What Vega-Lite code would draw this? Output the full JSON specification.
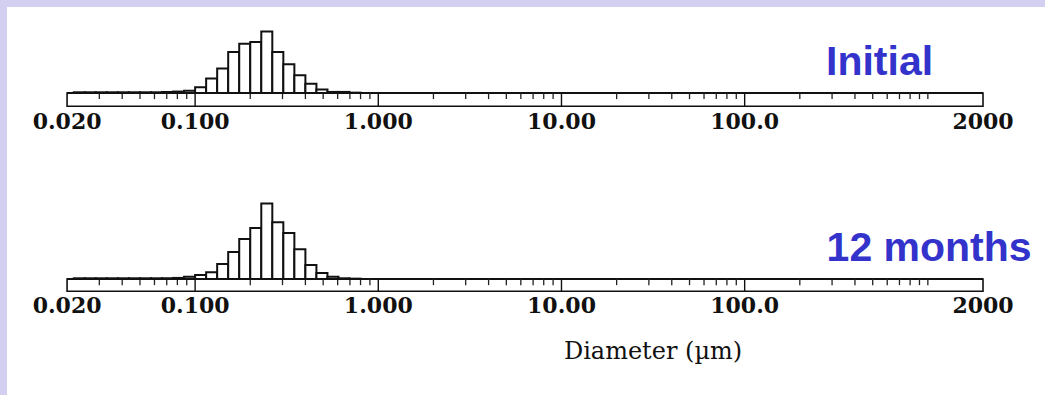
{
  "$schema": "https://vega.github.io/schema/vega-lite/v6.json",
  "width": 1045,
  "height": 395,
  "autosize": {"type": "fit", "contains": "padding"},
  "padding": {"left": 7, "top": 7, "right": 0, "bottom": 0},
  "background": "#D3CFF0",
  "config": {"view": {"fill": "white", "stroke": null}, "axis": {"disable": true}},
  "datasets": {
    "bins": [
      {"lo": 0.021764, "hi": 0.025, "initial": 0.2, "m12": 0.2},
      {"lo": 0.025, "hi": 0.028717, "initial": 0.2, "m12": 0.2},
      {"lo": 0.028717, "hi": 0.032988, "initial": 0.2, "m12": 0.2},
      {"lo": 0.032988, "hi": 0.037893, "initial": 0.2, "m12": 0.2},
      {"lo": 0.037893, "hi": 0.043528, "initial": 0.2, "m12": 0.2},
      {"lo": 0.043528, "hi": 0.05, "initial": 0.2, "m12": 0.2},
      {"lo": 0.05, "hi": 0.057435, "initial": 0.2, "m12": 0.2},
      {"lo": 0.057435, "hi": 0.065975, "initial": 0.2, "m12": 0.2},
      {"lo": 0.065975, "hi": 0.075786, "initial": 0.3, "m12": 0.2},
      {"lo": 0.075786, "hi": 0.087055, "initial": 0.4, "m12": 0.3},
      {"lo": 0.087055, "hi": 0.1, "initial": 0.6, "m12": 0.6},
      {"lo": 0.1, "hi": 0.11487, "initial": 1.6, "m12": 1.1},
      {"lo": 0.11487, "hi": 0.13195, "initial": 4.0, "m12": 1.9},
      {"lo": 0.13195, "hi": 0.15157, "initial": 6.8, "m12": 4.2},
      {"lo": 0.15157, "hi": 0.17411, "initial": 11.4, "m12": 7.5},
      {"lo": 0.17411, "hi": 0.2, "initial": 13.7, "m12": 11.1},
      {"lo": 0.2, "hi": 0.22974, "initial": 14.2, "m12": 14.2},
      {"lo": 0.22974, "hi": 0.2639, "initial": 17.1, "m12": 21.0},
      {"lo": 0.2639, "hi": 0.30314, "initial": 11.4, "m12": 15.8},
      {"lo": 0.30314, "hi": 0.34822, "initial": 8.0, "m12": 12.8},
      {"lo": 0.34822, "hi": 0.4, "initial": 4.9, "m12": 8.3},
      {"lo": 0.4, "hi": 0.45948, "initial": 2.6, "m12": 3.9},
      {"lo": 0.45948, "hi": 0.5278, "initial": 1.0, "m12": 1.7},
      {"lo": 0.5278, "hi": 0.60629, "initial": 0.3, "m12": 0.6},
      {"lo": 0.60629, "hi": 0.69644, "initial": 0.3, "m12": 0.2},
      {"lo": 0.69644, "hi": 0.8, "initial": 0.1, "m12": 0.1}
    ],
    "ticks": [
      {"v": 0.03, "major": false}, {"v": 0.04, "major": false}, {"v": 0.05, "major": false}, {"v": 0.06, "major": false}, {"v": 0.07, "major": false}, {"v": 0.08, "major": false}, {"v": 0.09, "major": false},
      {"v": 0.1, "major": true},
      {"v": 0.2, "major": false}, {"v": 0.3, "major": false}, {"v": 0.4, "major": false}, {"v": 0.5, "major": false}, {"v": 0.6, "major": false}, {"v": 0.7, "major": false}, {"v": 0.8, "major": false}, {"v": 0.9, "major": false},
      {"v": 1, "major": true},
      {"v": 2, "major": false}, {"v": 3, "major": false}, {"v": 4, "major": false}, {"v": 5, "major": false}, {"v": 6, "major": false}, {"v": 7, "major": false}, {"v": 8, "major": false}, {"v": 9, "major": false},
      {"v": 10, "major": true},
      {"v": 20, "major": false}, {"v": 30, "major": false}, {"v": 40, "major": false}, {"v": 50, "major": false}, {"v": 60, "major": false}, {"v": 70, "major": false}, {"v": 80, "major": false}, {"v": 90, "major": false},
      {"v": 100, "major": true},
      {"v": 200, "major": false}, {"v": 300, "major": false}, {"v": 400, "major": false}, {"v": 500, "major": false}, {"v": 600, "major": false}, {"v": 700, "major": false}, {"v": 800, "major": false}, {"v": 900, "major": false}, {"v": 1000, "major": false}
    ],
    "labels": [
      {"v": 0.02, "t": "0.020"}, {"v": 0.1, "t": "0.100"}, {"v": 1, "t": "1.000"},
      {"v": 10, "t": "10.00"}, {"v": 100, "t": "100.0"}, {"v": 2000, "t": "2000"}
    ],
    "strip": [{"lo": 0.02, "hi": 2000}]
  },
  "resolve": {"scale": {"y": "independent"}},
  "layer": [
    {
      "layer": [
        {
          "data": {"name": "strip"},
          "mark": {"type": "rect", "fill": "white", "stroke": "#111", "strokeWidth": 1.6},
          "encoding": {
            "x": {"field": "lo", "type": "quantitative", "scale": {"type": "log", "domain": [0.0094, 4360], "nice": false}},
            "x2": {"field": "hi"},
            "y": {"datum": 0, "type": "quantitative", "scale": {"domain": [-83.89, 23.89], "nice": false, "zero": false}},
            "y2": {"datum": -3.7}
          }
        },
        {
          "data": {"name": "strip"},
          "mark": {"type": "rule", "stroke": "#111", "strokeWidth": 2.2},
          "encoding": {
            "x": {"field": "lo", "type": "quantitative", "scale": {"type": "log", "domain": [0.0094, 4360], "nice": false}},
            "x2": {"field": "hi"},
            "y": {"datum": 0, "type": "quantitative", "scale": {"domain": [-83.89, 23.89], "nice": false, "zero": false}}
          }
        },
        {
          "data": {"name": "ticks"},
          "transform": [{"filter": "!datum.major"}],
          "mark": {"type": "rule", "stroke": "#222", "strokeWidth": 1.3},
          "encoding": {
            "x": {"field": "v", "type": "quantitative", "scale": {"type": "log", "domain": [0.0094, 4360], "nice": false}},
            "y": {"datum": 0, "type": "quantitative", "scale": {"domain": [-83.89, 23.89], "nice": false, "zero": false}},
            "y2": {"datum": -1.7}
          }
        },
        {
          "data": {"name": "ticks"},
          "transform": [{"filter": "datum.major"}],
          "mark": {"type": "rule", "stroke": "#111", "strokeWidth": 1.4},
          "encoding": {
            "x": {"field": "v", "type": "quantitative", "scale": {"type": "log", "domain": [0.0094, 4360], "nice": false}},
            "y": {"datum": 0, "type": "quantitative", "scale": {"domain": [-83.89, 23.89], "nice": false, "zero": false}},
            "y2": {"datum": -3.7}
          }
        },
        {
          "data": {"name": "bins"},
          "mark": {"type": "rect", "fill": "white", "stroke": "#111", "strokeWidth": 2},
          "encoding": {
            "x": {"field": "lo", "type": "quantitative", "scale": {"type": "log", "domain": [0.0094, 4360], "nice": false}},
            "x2": {"field": "hi"},
            "y": {"field": "initial", "type": "quantitative", "scale": {"domain": [-83.89, 23.89], "nice": false, "zero": false}},
            "y2": {"datum": 0}
          }
        },
        {
          "data": {"name": "labels"},
          "mark": {"type": "text", "font": "DejaVu Serif", "fontSize": 22, "fontWeight": "bold", "baseline": "middle", "align": "center", "color": "#111"},
          "encoding": {
            "x": {"field": "v", "type": "quantitative", "scale": {"type": "log", "domain": [0.0094, 4360], "nice": false}},
            "y": {"datum": -8.0, "type": "quantitative", "scale": {"domain": [-83.89, 23.89], "nice": false, "zero": false}},
            "text": {"field": "t"}
          }
        },
        {
          "data": {"values": [{"t": "Initial"}]},
          "mark": {"type": "text", "font": "Liberation Sans", "fontSize": 41, "fontWeight": "bold", "baseline": "alphabetic", "align": "left", "color": "#3333CC"},
          "encoding": {
            "x": {"datum": 278, "type": "quantitative", "scale": {"type": "log", "domain": [0.0094, 4360], "nice": false}},
            "y": {"datum": 5.0, "type": "quantitative", "scale": {"domain": [-83.89, 23.89], "nice": false, "zero": false}},
            "text": {"field": "t"}
          }
        }
      ]
    },
    {
      "layer": [
        {
          "data": {"name": "strip"},
          "mark": {"type": "rect", "fill": "white", "stroke": "#111", "strokeWidth": 1.6},
          "encoding": {
            "x": {"field": "lo", "type": "quantitative", "scale": {"type": "log", "domain": [0.0094, 4360], "nice": false}},
            "x2": {"field": "hi"},
            "y": {"datum": 0, "type": "quantitative", "scale": {"domain": [-32.22, 75.56], "nice": false, "zero": false}},
            "y2": {"datum": -3.4}
          }
        },
        {
          "data": {"name": "strip"},
          "mark": {"type": "rule", "stroke": "#111", "strokeWidth": 2.2},
          "encoding": {
            "x": {"field": "lo", "type": "quantitative", "scale": {"type": "log", "domain": [0.0094, 4360], "nice": false}},
            "x2": {"field": "hi"},
            "y": {"datum": 0, "type": "quantitative", "scale": {"domain": [-32.22, 75.56], "nice": false, "zero": false}}
          }
        },
        {
          "data": {"name": "ticks"},
          "transform": [{"filter": "!datum.major"}],
          "mark": {"type": "rule", "stroke": "#222", "strokeWidth": 1.3},
          "encoding": {
            "x": {"field": "v", "type": "quantitative", "scale": {"type": "log", "domain": [0.0094, 4360], "nice": false}},
            "y": {"datum": 0, "type": "quantitative", "scale": {"domain": [-32.22, 75.56], "nice": false, "zero": false}},
            "y2": {"datum": -1.7}
          }
        },
        {
          "data": {"name": "ticks"},
          "transform": [{"filter": "datum.major"}],
          "mark": {"type": "rule", "stroke": "#111", "strokeWidth": 1.4},
          "encoding": {
            "x": {"field": "v", "type": "quantitative", "scale": {"type": "log", "domain": [0.0094, 4360], "nice": false}},
            "y": {"datum": 0, "type": "quantitative", "scale": {"domain": [-32.22, 75.56], "nice": false, "zero": false}},
            "y2": {"datum": -3.4}
          }
        },
        {
          "data": {"name": "bins"},
          "mark": {"type": "rect", "fill": "white", "stroke": "#111", "strokeWidth": 2},
          "encoding": {
            "x": {"field": "lo", "type": "quantitative", "scale": {"type": "log", "domain": [0.0094, 4360], "nice": false}},
            "x2": {"field": "hi"},
            "y": {"field": "m12", "type": "quantitative", "scale": {"domain": [-32.22, 75.56], "nice": false, "zero": false}},
            "y2": {"datum": 0}
          }
        },
        {
          "data": {"name": "labels"},
          "mark": {"type": "text", "font": "DejaVu Serif", "fontSize": 22, "fontWeight": "bold", "baseline": "middle", "align": "center", "color": "#111"},
          "encoding": {
            "x": {"field": "v", "type": "quantitative", "scale": {"type": "log", "domain": [0.0094, 4360], "nice": false}},
            "y": {"datum": -7.4, "type": "quantitative", "scale": {"domain": [-32.22, 75.56], "nice": false, "zero": false}},
            "text": {"field": "t"}
          }
        },
        {
          "data": {"values": [{"t": "12 months"}]},
          "mark": {"type": "text", "font": "Liberation Sans", "fontSize": 41, "fontWeight": "bold", "baseline": "alphabetic", "align": "left", "color": "#3333CC"},
          "encoding": {
            "x": {"datum": 280, "type": "quantitative", "scale": {"type": "log", "domain": [0.0094, 4360], "nice": false}},
            "y": {"datum": 5.0, "type": "quantitative", "scale": {"domain": [-32.22, 75.56], "nice": false, "zero": false}},
            "text": {"field": "t"}
          }
        },
        {
          "data": {"values": [{"t": "Diameter (µm)"}]},
          "mark": {"type": "text", "font": "DejaVu Serif", "fontSize": 24, "baseline": "middle", "align": "center", "color": "#111"},
          "encoding": {
            "x": {"datum": 31.6, "type": "quantitative", "scale": {"type": "log", "domain": [0.0094, 4360], "nice": false}},
            "y": {"datum": -20.3, "type": "quantitative", "scale": {"domain": [-32.22, 75.56], "nice": false, "zero": false}},
            "text": {"field": "t"}
          }
        }
      ]
    }
  ]
}
